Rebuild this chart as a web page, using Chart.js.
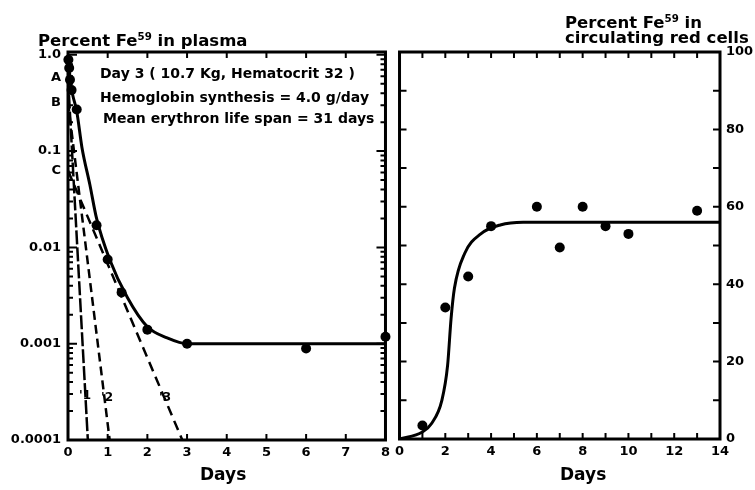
<!DOCTYPE html>
<html lang="en">
<head>
<meta charset="UTF-8">
<title>Fe59 in plasma and circulating red cells</title>
<script src="https://cdn.jsdelivr.net/npm/chart.js"></script>
<style>
    body {
        margin: 0;
        background: #fff;
        font-family: "DejaVu Sans", sans-serif;
        font-weight: bold;
        color: #000;
    }
    .wrap {
        position: relative;
        width: 755px;
        height: 490px;
        overflow: hidden;
    }
    canvas {
        position: absolute;
        top: 0;
    }
    #plasmaChart { left: 0; }
    #redCellChart { left: 390px; }
    .lbl {
        position: absolute;
        white-space: nowrap;
    }
    .title {
        font-size: 16.5px;
        line-height: 15px;
    }
    .title sup {
        font-size: 0.62em;
        line-height: 0;
        vertical-align: 0.55em;
    }
    .note {
        font-size: 14px;
        line-height: 14px;
    }
    .days {
        font-size: 17px;
        line-height: 17px;
    }
    .comp {
        font-size: 12px;
        line-height: 12px;
    }
</style>
</head>
<body>
<div class="wrap">
    <canvas id="plasmaChart" width="395" height="490"></canvas>
    <canvas id="redCellChart" width="365" height="490"></canvas>

    <div class="lbl title" style="left:38px; top:33px;">Percent Fe<sup>59</sup> in plasma</div>
    <div class="lbl title" style="left:565px; top:15px;">Percent Fe<sup>59</sup> in<br>circulating red cells</div>

    <div class="lbl note" style="left:100px; top:66px;">Day 3 ( 10.7 Kg, Hematocrit 32 )</div>
    <div class="lbl note" style="left:100px; top:90px;">Hemoglobin synthesis = 4.0 g/day</div>
    <div class="lbl note" style="left:103px; top:111px;">Mean erythron life span = 31 days</div>

    <div class="lbl comp" style="left:79px; top:389px;">'1</div>
    <div class="lbl comp" style="left:101px; top:391px;">'2</div>
    <div class="lbl comp" style="left:159px; top:391px;">'3</div>

    <div class="lbl days" style="left:200px; top:466px;">Days</div>
    <div class="lbl days" style="left:560px; top:466px;">Days</div>
</div>

<script>
    // Left panel: percent Fe59 remaining in plasma (log scale)
    const plasmaDays = [0.01, 0.03, 0.05, 0.09, 0.22, 0.72, 1.0, 1.35, 2.0, 3.0, 6.0, 8.0];
    const plasmaPct = [0.89, 0.73, 0.55, 0.43, 0.27, 0.017, 0.0075, 0.0034, 0.0014, 0.001, 0.00089, 0.00118];

    // smooth curve drawn through the plasma points
    const plasmaFitDays = [0, 0.03, 0.06, 0.12, 0.22, 0.35, 0.55, 0.72, 1.05, 1.5, 2.0, 2.5, 3.0, 8.0];
    const plasmaFitPct = [0.95, 0.73, 0.52, 0.38, 0.26, 0.11, 0.045, 0.02, 0.0075, 0.003, 0.0015, 0.00115, 0.001, 0.001];

    // the three exponential components: intercepts A, B, C at day 0
    const componentNames = ['A', 'B', 'C'];
    const componentIntercepts = [0.58, 0.32, 0.063];
    const componentEndDays = [0.5, 1.05, 2.88]; // day where each line reaches 0.0001
    const componentEndPct = 0.0001;

    const plasmaTickValues = [1, componentIntercepts[0], componentIntercepts[1], 0.1, componentIntercepts[2], 0.01, 0.001, 0.0001];
    const plasmaTickLabels = ['1.0', componentNames[0], componentNames[1], '0.1', componentNames[2], '0.01', '0.001', '0.0001'];

    // Right panel: percent Fe59 in circulating red cells
    const redCellDays = [1, 2, 3, 4, 6, 7, 8, 9, 10, 13];
    const redCellPct = [3.5, 34, 42, 55, 60, 49.5, 60, 55, 53, 59];

    const redCellFitDays = [0, 1, 1.4, 1.85, 2.1, 2.25, 2.4, 2.85, 3.55, 4.4, 5.4, 14];
    const redCellFitPct = [0, 1.8, 4, 10, 19, 31, 39, 48, 53, 55.3, 56, 56];

    const toXY = (xs, ys) => xs.map((x, i) => ({x: x, y: ys[i]}));

    Chart.defaults.font.family = '"DejaVu Sans", sans-serif';
    Chart.defaults.font.weight = 'bold';
    Chart.defaults.color = '#000';

    // frame and inward tick marks, placed with the chart's own scales
    const frameTicks = {
        id: 'frameTicks',
        afterDatasetsDraw(chart, args, opts) {
            const ctx = chart.ctx;
            const a = chart.chartArea;
            const xs = chart.scales.x;
            const ys = chart.scales.y;
            ctx.save();
            ctx.strokeStyle = '#000';
            ctx.lineWidth = 2;
            ctx.beginPath();
            opts.xTicks.forEach(v => {
                const px = xs.getPixelForValue(v);
                ctx.moveTo(px, a.bottom);
                ctx.lineTo(px, a.bottom - opts.xLen);
                ctx.moveTo(px, a.top);
                ctx.lineTo(px, a.top + opts.xLen);
            });
            opts.yTicks.forEach(t => {
                const py = ys.getPixelForValue(t.v);
                if (py < a.top - 1 || py > a.bottom + 1) return;
                ctx.moveTo(a.left, py);
                ctx.lineTo(a.left + t.len, py);
                ctx.moveTo(a.right, py);
                ctx.lineTo(a.right - t.len, py);
            });
            ctx.stroke();
            ctx.lineWidth = 3;
            ctx.strokeRect(a.left, a.top, a.right - a.left, a.bottom - a.top);
            ctx.restore();
        }
    };

    // log ticks: 1..9 in every decade
    const logTicks = [];
    [0.0001, 0.001, 0.01, 0.1].forEach(d => {
        for (let m = 1; m <= 9; m++) {
            logTicks.push({v: m * d, len: m === 1 ? 9 : 5});
        }
    });
    logTicks.push({v: 1, len: 9});

    const tickFont = {size: 13, weight: 'bold'};
    const noGrid = {display: false, drawTicks: false};

    function createPlasmaChart() {
        const datasets = [
            {
                data: toXY(plasmaDays, plasmaPct),
                showLine: false,
                pointRadius: 5,
                pointBackgroundColor: '#000',
                pointBorderWidth: 0,
                clip: false
            },
            {
                data: toXY(plasmaFitDays, plasmaFitPct),
                showLine: true,
                borderColor: '#000',
                borderWidth: 3,
                pointRadius: 0,
                cubicInterpolationMode: 'monotone'
            }
        ];
        const dashes = [[14, 3], [9, 5], [10, 6]];
        componentIntercepts.forEach((c, i) => {
            datasets.push({
                data: [{x: 0, y: c}, {x: componentEndDays[i], y: componentEndPct}],
                showLine: true,
                borderColor: '#000',
                borderWidth: 2.5,
                borderDash: dashes[i],
                pointRadius: 0
            });
        });

        new Chart(document.getElementById('plasmaChart'), {
            type: 'scatter',
            data: {datasets: datasets},
            options: {
                responsive: false,
                animation: false,
                layout: {padding: {top: 52, right: 7, left: 0, bottom: 0}},
                plugins: {
                    legend: {display: false},
                    tooltip: {enabled: false},
                    frameTicks: {
                        xTicks: [0, 1, 2, 3, 4, 5, 6, 7, 8],
                        xLen: 6,
                        yTicks: logTicks
                    }
                },
                scales: {
                    x: {
                        type: 'linear',
                        min: 0,
                        max: 8,
                        grid: noGrid,
                        border: {display: false},
                        ticks: {stepSize: 1, padding: 5, font: tickFont, maxRotation: 0},
                        afterFit(s) { s.height = 50; }
                    },
                    y: {
                        type: 'logarithmic',
                        min: 0.0001,
                        max: 1.07,
                        grid: noGrid,
                        border: {display: false},
                        afterBuildTicks(s) {
                            s.ticks = plasmaTickValues.map(v => ({value: v}));
                        },
                        ticks: {
                            autoSkip: false,
                            padding: 7,
                            font: tickFont,
                            callback: (v, i) => plasmaTickLabels[i]
                        },
                        afterFit(s) { s.width = 68; }
                    }
                }
            },
            plugins: [frameTicks]
        });
    }

    function createRedCellChart() {
        new Chart(document.getElementById('redCellChart'), {
            type: 'scatter',
            data: {
                datasets: [
                    {
                        data: toXY(redCellDays, redCellPct),
                        showLine: false,
                        pointRadius: 5,
                        pointBackgroundColor: '#000',
                        pointBorderWidth: 0,
                        clip: false
                    },
                    {
                        data: toXY(redCellFitDays, redCellFitPct),
                        showLine: true,
                        borderColor: '#000',
                        borderWidth: 3,
                        pointRadius: 0,
                        cubicInterpolationMode: 'monotone'
                    }
                ]
            },
            options: {
                responsive: false,
                animation: false,
                layout: {padding: {top: 52, right: 0, left: 7, bottom: 0}},
                plugins: {
                    legend: {display: false},
                    tooltip: {enabled: false},
                    frameTicks: {
                        xTicks: [0, 1, 2, 3, 4, 5, 6, 7, 8, 9, 10, 11, 12, 13, 14],
                        xLen: 6,
                        yTicks: [0, 10, 20, 30, 40, 50, 60, 70, 80, 90, 100].map(v => ({v: v, len: 7}))
                    }
                },
                scales: {
                    x: {
                        type: 'linear',
                        min: 0,
                        max: 14,
                        grid: noGrid,
                        border: {display: false},
                        ticks: {stepSize: 2, padding: 5, font: tickFont, maxRotation: 0},
                        afterFit(s) { s.height = 51; }
                    },
                    y: {
                        type: 'linear',
                        position: 'right',
                        min: 0,
                        max: 100,
                        grid: noGrid,
                        border: {display: false},
                        ticks: {stepSize: 20, padding: 6, font: tickFont},
                        afterFit(s) { s.width = 35; }
                    }
                }
            },
            plugins: [frameTicks]
        });
    }

    createPlasmaChart();
    createRedCellChart();
</script>
</body>
</html>
